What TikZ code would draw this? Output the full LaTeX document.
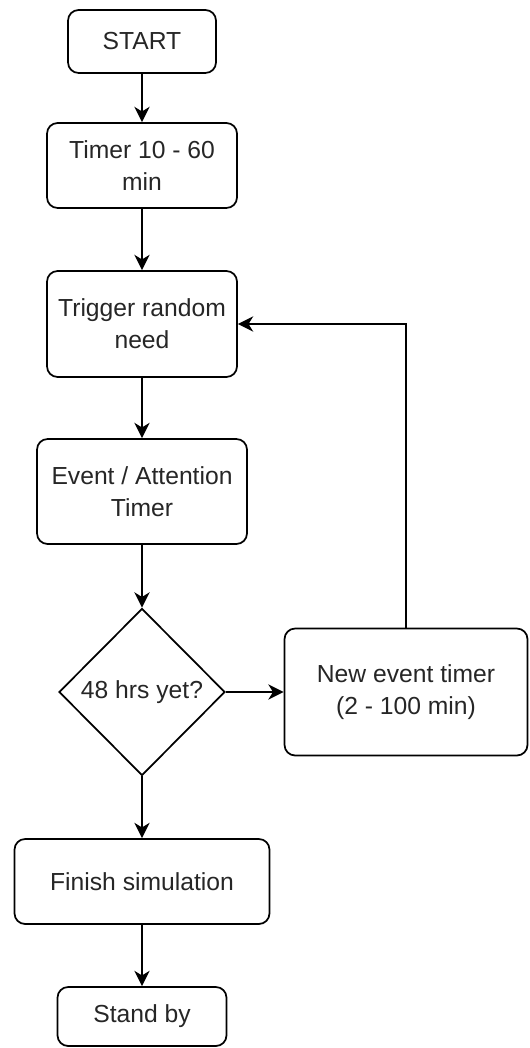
\documentclass[tikz,border=0pt]{standalone}
\usepackage{fontspec}
\setmainfont{Liberation Sans}
\usepackage{tikz}
\usetikzlibrary{shapes.geometric, arrows.meta}

\begin{document}
\begin{tikzpicture}[
    x=0.75pt, y=-0.75pt,
    box/.style={draw, line width=1.3pt, rounded corners=8pt, align=center, inner sep=2pt,
        text=black!85, font=\fontsize{18.5}{24}\selectfont},
    decision/.style={draw, diamond, aspect=1, line width=1.3pt, inner sep=0pt, align=center,
        minimum width=124.5pt, minimum height=125.25pt,
        text=black!85, font=\fontsize{18.5}{24}\selectfont},
    flow/.style={-{Stealth[length=11.5pt, width=11.5pt, inset=3.5pt]}, line width=1.3pt},
]
\useasboundingbox (0,0) rectangle (529,1048);

% ---- Main column ----
\node[box, minimum width=111pt, minimum height=47.25pt] (start) at (142,41.5) {START};
\node[box, minimum width=142.5pt, minimum height=63.75pt] (timer) at (142,165.5) {Timer 10 - 60\\min};
\node[box, minimum width=142.5pt, minimum height=79.5pt] (trigger) at (142,324) {Trigger random\\need};
\node[box, minimum width=157.5pt, minimum height=78.75pt] (event) at (142,491.5) {Event / Attention\\Timer};
\node[decision] (check) at (142,692) {48 hrs yet?};
\node[box, minimum width=191.25pt, minimum height=63.75pt] (finish) at (142,881.5) {Finish simulation};
\node[box, minimum width=126.75pt, minimum height=44.25pt] (standby) at (142,1016.5) {Stand by};

% ---- Side branch ----
\node[box, minimum width=182.25pt, minimum height=95.25pt] (newtimer) at (406,692) {New event timer\\(2 - 100 min)};

% ---- Arrows ----
\draw[flow] (start) -- (timer);
\draw[flow] (timer) -- (trigger);
\draw[flow] (trigger) -- (event);
\draw[flow] (event) -- (check);
\draw[flow] (check) -- (finish);
\draw[flow] (finish) -- (standby);
\draw[flow] (check) -- (newtimer);
\draw[flow] (newtimer.north) |- (trigger.east);

\end{tikzpicture}
\end{document}
